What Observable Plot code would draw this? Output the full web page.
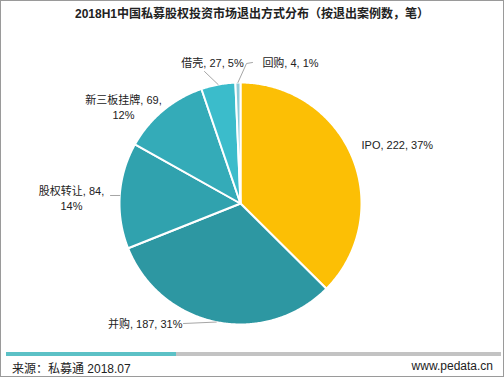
<!DOCTYPE html>
<html><head><meta charset="utf-8">
<script src="https://cdn.jsdelivr.net/npm/d3@7"></script>
<script src="https://cdn.jsdelivr.net/npm/@observablehq/plot@0.6"></script>
<style>
html,body{margin:0;padding:0;background:#fff;}
#wrap{position:relative;width:504px;height:377px;box-sizing:border-box;border:1px solid #9a9a9a;overflow:hidden;font-family:"Liberation Sans","Noto Sans CJK SC",sans-serif;}
#title{height:26px;line-height:26px;text-align:center;font-weight:bold;font-size:12px;color:#222;}
#chart{position:absolute;left:0;top:26px;}
#barA{position:absolute;left:5px;top:351px;width:170px;height:4px;background:#5cc1c6;}
#barB{position:absolute;left:175px;top:351px;width:325px;height:4px;background:#c3c3c3;}
#src{position:absolute;left:11px;top:358px;font-size:12px;color:#222;}
#url{position:absolute;right:10px;top:358px;font-size:12px;color:#222;}
</style></head>
<body>
<div id="wrap">
<div id="title">2018H1中国私募股权投资市场退出方式分布（按退出案例数，笔）</div>
<div id="chart"></div>
<div id="barA"></div><div id="barB"></div>
<div id="src">来源：私募通 2018.07</div>
<div id="url">www.pedata.cn</div>
</div>
<script>
const categories = ["IPO", "并购", "股权转让", "新三板挂牌", "借壳", "回购"];
const counts = [222, 187, 84, 69, 27, 4];
const percents = ["37%", "31%", "14%", "12%", "5%", "1%"];
const colors = ["#fcbf05", "#2d97a2", "#30a2ae", "#34abb8", "#3bbccb", "#8ecbd8"];
// label layout (pixels relative to pie centre, screen y down)
const labelLayout = [
  {tx: 121, ty: -59, anchor: "start", lines: false, leader: []},
  {tx: -58, ty: 120, anchor: "end", lines: false, leader: [[-57, 120]]},
  {tx: -169, ty: -6, anchor: "middle", lines: true, leader: [[-130, -8]]},
  {tx: -117, ty: -97, anchor: "middle", lines: true, leader: []},
  {tx: -28, ty: -141, anchor: "middle", lines: false, leader: [[-36, -132]]},
  {tx: 50, ty: -141, anchor: "middle", lines: false, leader: [[12, -141], [6, -140]]}
];
const W = 502, H = 322, CX = 239, CY = 176, R = 121;

const arcs = d3.pie().sort(null).value(d => d)(counts);
const poly = [];
arcs.forEach((a, i) => {
  const cat = categories[i];
  poly.push({cat, x: 0, y: 0});
  const n = Math.max(2, Math.ceil((a.endAngle - a.startAngle) / 0.01));
  for (let k = 0; k <= n; k++) {
    const t = a.startAngle + (a.endAngle - a.startAngle) * k / n;
    poly.push({cat, x: Math.sin(t), y: Math.cos(t)});
  }
  poly.push({cat, x: 0, y: 0});
});

const labels = arcs.map((a, i) => {
  const L = labelLayout[i];
  const sep = L.lines ? ",\n" : ", ";
  return {
    cat: categories[i],
    text: `${categories[i]}, ${counts[i]}${sep}${percents[i]}`,
    x: L.tx / R, y: -L.ty / R, anchor: L.anchor
  };
});
const leaders = [];
arcs.forEach((a, i) => {
  const L = labelLayout[i];
  if (!L.leader.length) return;
  const m = (a.startAngle + a.endAngle) / 2;
  L.leader.forEach(p => leaders.push({cat: categories[i], x: p[0] / R, y: -p[1] / R}));
  leaders.push({cat: categories[i], x: Math.sin(m), y: Math.cos(m)});
});

const textOpts = {fontSize: 11, fill: "#222", lineHeight: 1.35, fontFamily: "Liberation Sans, Noto Sans CJK SC, sans-serif"};
const plot = Plot.plot({
  width: W, height: H,
  margin: 0,
  x: {domain: [-CX / R, (W - CX) / R], axis: null},
  y: {domain: [-(H - CY) / R, CY / R], axis: null},
  color: {domain: categories, range: colors},
  marks: [
    Plot.line(poly, {x: "x", y: "y", z: "cat", fill: "cat", stroke: "white", strokeWidth: 2, strokeLinejoin: "round", curve: "linear"}),
    Plot.line(leaders, {x: "x", y: "y", z: "cat", stroke: "#a6a6a6", strokeWidth: 1}),
    Plot.text(labels.filter(d => d.anchor === "start"), {x: "x", y: "y", text: "text", textAnchor: "start", ...textOpts}),
    Plot.text(labels.filter(d => d.anchor === "end"), {x: "x", y: "y", text: "text", textAnchor: "end", ...textOpts}),
    Plot.text(labels.filter(d => d.anchor === "middle"), {x: "x", y: "y", text: "text", textAnchor: "middle", ...textOpts})
  ]
});
document.getElementById("chart").appendChild(plot);
</script>
</body></html>
